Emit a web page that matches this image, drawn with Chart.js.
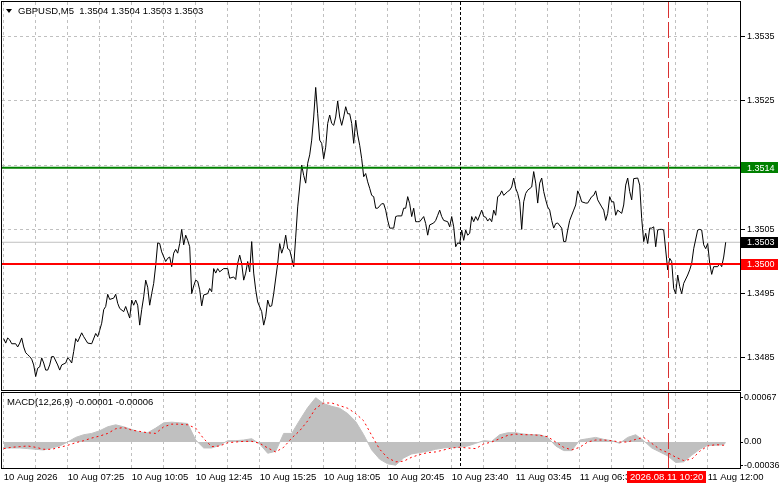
<!DOCTYPE html>
<html>
<head>
<meta charset="utf-8">
<title>GBPUSD M5</title>
<script src="https://cdn.jsdelivr.net/npm/chart.js@4.4.1/dist/chart.umd.min.js"></script>
<style>
  body { margin: 0; background: #fff; }
  #wrap { position: relative; width: 781px; height: 489px; overflow: hidden; background: #fff;
          font-family: 'Liberation Sans', Arial, sans-serif; font-size: 9.5px; color: #000; }
  .pane { position: absolute; left: 0; width: 781px; }
  .caption { position: absolute; white-space: pre; line-height: 12px; }
  .tri { position: absolute; left: 6px; top: 9px; width: 0; height: 0;
         border-left: 3.5px solid transparent; border-right: 3.5px solid transparent; border-top: 4px solid #000; }
</style>
</head>
<body>
<div id="wrap">
  <div class="pane" style="top:0;height:392px"><canvas id="priceChart"></canvas></div>
  <div class="pane" style="top:392px;height:97px"><canvas id="macdChart"></canvas></div>
  <div class="tri"></div>
  <div class="caption" style="left:18px;top:5px">GBPUSD,M5  1.3504 1.3504 1.3503 1.3503</div>
  <div class="caption" style="left:7px;top:396px">MACD(12,26,9) -0.00001 -0.00006</div>
</div>

<script>
// bar number -> close (M5 bars, 2px each)
const priceBars = [
  0, 1, 2, 3, 4, 6, 7, 8, 9, 10,
  11, 12, 13, 14, 15, 16, 17, 18, 19, 20,
  21, 22, 23, 24, 25, 27, 28, 29, 31, 32,
  33, 34, 35, 36, 37, 39, 40, 42, 44, 46,
  47, 48, 49, 50, 51, 52, 53, 55, 56, 57,
  58, 60, 61, 63, 64, 65, 66, 67, 68, 69,
  70, 71, 72, 73, 74, 75, 76, 77, 78, 79,
  81, 82, 83, 84, 85, 86, 87, 88, 89, 90,
  91, 92, 93, 94, 95, 96, 97, 98, 99, 100,
  102, 103, 104, 105, 106, 107, 108, 110, 112, 113,
  115, 116, 117, 118, 119, 120, 121, 122, 123, 124,
  125, 126, 127, 129, 130, 131, 132, 133, 134, 135,
  137, 138, 139, 140, 141, 142, 143, 145, 146, 147,
  148, 149, 150, 151, 152, 153, 154, 155, 156, 157,
  158, 159, 160, 161, 162, 163, 164, 165, 166, 167,
  168, 169, 170, 171, 172, 173, 174, 175, 176, 177,
  178, 179, 180, 181, 182, 183, 184, 185, 186, 187,
  189, 190, 191, 192, 193, 195, 196, 197, 199, 200,
  201, 202, 203, 204, 205, 206, 207, 208, 210, 211,
  212, 213, 215, 216, 217, 218, 219, 220, 222, 223,
  224, 225, 226, 227, 228, 229, 230, 231, 232, 233,
  234, 235, 236, 237, 239, 240, 241, 242, 243, 244,
  245, 246, 247, 248, 249, 250, 252, 253, 254, 255,
  256, 257, 258, 259, 260, 261, 262, 264, 265, 266,
  267, 268, 269, 270, 271, 272, 273, 274, 275, 276,
  277, 279, 280, 281, 282, 283, 285, 286, 287, 288,
  289, 291, 292, 294, 295, 296, 297, 299, 300, 301,
  302, 303, 304, 305, 306, 307, 309, 310, 311, 312,
  313, 314, 315, 317, 318, 319, 320, 321, 322, 323,
  324, 325, 326, 327, 328, 329, 330, 331, 332, 333,
  334, 335, 336, 337, 338, 339, 340, 342, 343, 344,
  345, 347, 348, 349, 350, 351, 352, 353, 354, 355,
  357, 358, 359, 360, 361
];
const closePrices = [
  1.34880, 1.34873, 1.34881, 1.34878, 1.34872, 1.34872, 1.34867, 1.34873, 1.34881, 1.34867,
  1.34858, 1.34855, 1.34852, 1.34848, 1.34839, 1.34821, 1.34834, 1.34836, 1.34850, 1.34842,
  1.34831, 1.34831, 1.34839, 1.34852, 1.34852, 1.34839, 1.34831, 1.34839, 1.34842, 1.34850,
  1.34847, 1.34842, 1.34860, 1.34880, 1.34875, 1.34889, 1.34883, 1.34873, 1.34872, 1.34888,
  1.34883, 1.34893, 1.34904, 1.34925, 1.34930, 1.34949, 1.34941, 1.34943, 1.34949, 1.34935,
  1.34927, 1.34922, 1.34930, 1.34912, 1.34940, 1.34932, 1.34940, 1.34932, 1.34901, 1.34925,
  1.34945, 1.34971, 1.34960, 1.34932, 1.34950, 1.34966, 1.34994, 1.35029, 1.35028, 1.35015,
  1.35000, 1.35005, 1.35007, 1.34992, 1.35013, 1.35019, 1.35013, 1.35028, 1.35050, 1.35026,
  1.35041, 1.35033, 1.35023, 1.34950, 1.34962, 1.34971, 1.34969, 1.34956, 1.34931, 1.34948,
  1.34950, 1.34958, 1.34953, 1.34989, 1.34982, 1.34989, 1.34984, 1.34989, 1.34989, 1.34974,
  1.34976, 1.34972, 1.34997, 1.35010, 1.34997, 1.34971, 1.34982, 1.35000, 1.34984, 1.35031,
  1.34982, 1.34956, 1.34937, 1.34922, 1.34901, 1.34914, 1.34940, 1.34930, 1.34931, 1.34950,
  1.34997, 1.35028, 1.35013, 1.35023, 1.35041, 1.35020, 1.35018, 1.34992, 1.35038, 1.35085,
  1.35116, 1.35150, 1.35134, 1.35122, 1.35153, 1.35166, 1.35189, 1.35225, 1.35271, 1.35230,
  1.35189, 1.35184, 1.35160, 1.35178, 1.35215, 1.35228, 1.35215, 1.35212, 1.35225, 1.35250,
  1.35225, 1.35212, 1.35225, 1.35241, 1.35230, 1.35230, 1.35215, 1.35184, 1.35220, 1.35197,
  1.35181, 1.35160, 1.35132, 1.35137, 1.35124, 1.35114, 1.35103, 1.35101, 1.35083, 1.35083,
  1.35090, 1.35090, 1.35080, 1.35064, 1.35052, 1.35052, 1.35070, 1.35071, 1.35071, 1.35083,
  1.35083, 1.35101, 1.35090, 1.35070, 1.35083, 1.35062, 1.35062, 1.35062, 1.35070, 1.35059,
  1.35041, 1.35057, 1.35060, 1.35064, 1.35072, 1.35080, 1.35070, 1.35064, 1.35062, 1.35054,
  1.35070, 1.35054, 1.35023, 1.35029, 1.35028, 1.35049, 1.35033, 1.35049, 1.35041, 1.35044,
  1.35070, 1.35062, 1.35070, 1.35064, 1.35080, 1.35070, 1.35069, 1.35063, 1.35067, 1.35062,
  1.35080, 1.35072, 1.35101, 1.35103, 1.35110, 1.35103, 1.35109, 1.35111, 1.35116, 1.35130,
  1.35114, 1.35106, 1.35093, 1.35050, 1.35093, 1.35106, 1.35111, 1.35116, 1.35140, 1.35122,
  1.35091, 1.35122, 1.35130, 1.35109, 1.35096, 1.35085, 1.35080, 1.35064, 1.35052, 1.35059,
  1.35060, 1.35052, 1.35031, 1.35031, 1.35049, 1.35064, 1.35080, 1.35088, 1.35110, 1.35103,
  1.35093, 1.35091, 1.35091, 1.35101, 1.35103, 1.35110, 1.35096, 1.35085, 1.35080, 1.35064,
  1.35075, 1.35101, 1.35093, 1.35093, 1.35072, 1.35080, 1.35075, 1.35088, 1.35119, 1.35130,
  1.35109, 1.35096, 1.35129, 1.35130, 1.35119, 1.35067, 1.35031, 1.35044, 1.35028, 1.35052,
  1.35052, 1.35054, 1.35023, 1.35049, 1.35050, 1.35050, 1.35049, 1.35018, 1.34987, 1.35005,
  1.35000, 1.34958, 1.34950, 1.34979, 1.34961, 1.34950, 1.34966, 1.34979, 1.34987, 1.34997,
  1.35020, 1.35049, 1.35050, 1.35049, 1.35026, 1.35020, 1.35028, 1.34997, 1.34980, 1.34992,
  1.34992, 1.34997, 1.34992, 1.35007, 1.35030
];

// MACD(12,26,9): histogram (main) and signal, sampled every 4 bars
const macdBars = [
  0, 4, 8, 12, 16, 20, 24, 28, 32, 36,
  40, 44, 48, 52, 56, 60, 64, 68, 72, 76,
  80, 84, 88, 92, 96, 100, 104, 108, 112, 116,
  120, 124, 128, 132, 136, 140, 144, 148, 152, 156,
  160, 164, 168, 172, 176, 180, 184, 188, 192, 196,
  200, 204, 208, 212, 216, 220, 224, 228, 232, 236,
  240, 244, 248, 252, 256, 260, 264, 268, 272, 276,
  280, 284, 288, 292, 296, 300, 304, 308, 312, 316,
  320, 324, 328, 332, 336, 340, 344, 348, 352, 356,
  360, 361
];
const macdMain = [
  -0.00009, -0.00009, -0.00009, -0.00010, -0.00011, -0.00012, -0.00009, -0.00006, 0.00000, 0.00007,
  0.00011, 0.00013, 0.00017, 0.00023, 0.00026, 0.00023, 0.00019, 0.00015, 0.00014, 0.00021,
  0.00029, 0.00030, 0.00029, 0.00028, 0.00003, -0.00009, -0.00009, -0.00005, 0.00002, 0.00002,
  0.00003, 0.00005, -0.00003, -0.00017, -0.00014, 0.00013, 0.00013, 0.00033, 0.00052, 0.00067,
  0.00058, 0.00054, 0.00051, 0.00043, 0.00031, 0.00011, -0.00012, -0.00026, -0.00033, -0.00035,
  -0.00024, -0.00018, -0.00016, -0.00014, -0.00011, -0.00009, -0.00008, -0.00008, -0.00006, -0.00002,
  0.00002, 0.00001, 0.00011, 0.00014, 0.00014, 0.00012, 0.00011, 0.00011, 0.00007, -0.00006,
  -0.00013, -0.00013, 0.00003, 0.00005, 0.00007, 0.00004, 0.00002, -0.00002, 0.00007, 0.00011,
  0.00002, -0.00009, -0.00015, -0.00021, -0.00031, -0.00030, -0.00020, -0.00011, -0.00005, -0.00005,
  -0.00004, -0.00001
];
const macdSignal = [
  -0.00010, -0.00008, -0.00007, -0.00006, -0.00008, -0.00011, -0.00011, -0.00008, -0.00005, -0.00001,
  0.00002, 0.00006, 0.00009, 0.00013, 0.00020, 0.00022, 0.00018, 0.00016, 0.00014, 0.00013,
  0.00023, 0.00027, 0.00027, 0.00026, 0.00021, 0.00005, -0.00007, -0.00006, -0.00001, 0.00000,
  0.00001, 0.00001, -0.00002, -0.00009, -0.00015, -0.00008, 0.00006, 0.00017, 0.00032, 0.00051,
  0.00059, 0.00059, 0.00055, 0.00051, 0.00043, 0.00032, 0.00010, -0.00011, -0.00024, -0.00030,
  -0.00029, -0.00023, -0.00019, -0.00016, -0.00015, -0.00012, -0.00009, -0.00008, -0.00009, -0.00010,
  -0.00003, 0.00000, 0.00005, 0.00010, 0.00012, 0.00011, 0.00011, 0.00010, 0.00008, 0.00000,
  -0.00008, -0.00012, -0.00008, 0.00000, 0.00003, 0.00003, 0.00002, 0.00000, 0.00000, 0.00004,
  0.00007, -0.00002, -0.00011, -0.00016, -0.00023, -0.00028, -0.00026, -0.00014, -0.00006, -0.00004,
  -0.00005, -0.00006
];

// axis ticks
const timeTickBars = [0, 16, 32, 48, 64, 80, 96, 112, 128, 144, 160, 176, 192, 208, 224, 240,
                      256, 272, 288, 304, 320, 336, 352];
const timeLabels = ['10 Aug 2026', '10 Aug 07:25', '10 Aug 10:05', '10 Aug 12:45', '10 Aug 15:25',
                    '10 Aug 18:05', '10 Aug 20:45', '10 Aug 23:40', '11 Aug 03:45', '11 Aug 06:35',
                    '11 Aug 09:15', '11 Aug 12:00'];
const priceTicks = [1.3485, 1.3495, 1.3505, 1.3515, 1.3525, 1.3535];
const macdTicks = [-0.00036, 0, 0.00067];
const macdTickLabels = ['-0.00036', '0.00', '0.00067'];

// levels and markers
const resistance = 1.35146, resistanceLabel = '1.3514';
const support = 1.34996, supportLabel = '1.3500';
const lastPrice = 1.3503, lastPriceLabel = '1.3503';
const daySeparatorBar = 228;
const cursorBar = 332, cursorLabel = '2026.08.11 10:20';

const xMin = -0.85, xMax = 368.15;
const FAMILY = "'Liberation Sans', Arial, sans-serif";
const AXIS_FONT = { family: FAMILY, size: 9 };
Chart.defaults.font.family = FAMILY;
Chart.defaults.font.size = 9.5;
Chart.defaults.color = '#000';

const levelLine = v => [{ x: xMin, y: v }, { x: xMax, y: v }];

const frame = {
  id: 'frame',
  afterDraw(chart) {
    const { ctx, chartArea: a } = chart;
    ctx.save();
    ctx.strokeStyle = '#000';
    ctx.lineWidth = 1;
    ctx.strokeRect(a.left - 0.5, a.top - 0.5, a.right - a.left + 1, a.bottom - a.top + 1);
    ctx.restore();
  }
};

const markers = {
  id: 'markers',
  afterDatasetsDraw(chart) {
    const { ctx, chartArea: a, scales: { x } } = chart;
    const vline = (bar, color, dash) => {
      const px = Math.round(x.getPixelForValue(bar)) + 0.5;
      ctx.save();
      ctx.strokeStyle = color;
      ctx.lineWidth = 1;
      ctx.setLineDash(dash);
      ctx.beginPath();
      ctx.moveTo(px, a.top);
      ctx.lineTo(px, a.bottom);
      ctx.stroke();
      ctx.restore();
    };
    vline(daySeparatorBar, '#000', [3, 2]);
    vline(cursorBar, '#d83030', [16, 4]);
  }
};

const tag = (ctx, x, y, w, h, bg, text) => {
  ctx.fillStyle = bg;
  ctx.fillRect(x, Math.round(y - h / 2), w, h);
  ctx.fillStyle = '#fff';
  ctx.textBaseline = 'middle';
  ctx.textAlign = 'left';
  ctx.font = AXIS_FONT.size + 'px ' + FAMILY;
  ctx.fillText(text, x + 6, Math.round(y) + 0.5);
};

const priceTags = {
  id: 'priceTags',
  afterDraw(chart) {
    const { ctx, chartArea: a, scales: { y } } = chart;
    ctx.save();
    tag(ctx, a.right + 1, y.getPixelForValue(resistance), 37, 11, '#008000', resistanceLabel);
    tag(ctx, a.right + 1, y.getPixelForValue(lastPrice), 37, 11, '#000', lastPriceLabel);
    tag(ctx, a.right + 1, y.getPixelForValue(support), 37, 11, '#ff0000', supportLabel);
    ctx.restore();
  }
};

const timeTag = {
  id: 'timeTag',
  afterDraw(chart) {
    const { ctx, chartArea: a, scales: { x } } = chart;
    const px = x.getPixelForValue(cursorBar);
    ctx.save();
    ctx.fillStyle = '#ff0000';
    ctx.fillRect(Math.round(px - 41), a.bottom + 3, 79, 12);
    ctx.fillStyle = '#fff';
    ctx.textAlign = 'left';
    ctx.textBaseline = 'middle';
    ctx.font = '9.5px ' + FAMILY;
    ctx.fillText(cursorLabel, Math.round(px - 38), a.bottom + 9.5);
    ctx.restore();
  }
};

const timeAxis = (showLabels) => ({
  type: 'linear',
  min: xMin,
  max: xMax,
  afterBuildTicks: s => { s.ticks = timeTickBars.map(v => ({ value: v })); },
  afterFit: s => { s.height = showLabels ? 21 : 0; s.paddingLeft = 0; s.paddingRight = 0; },
  grid: { color: '#c0c0c0', drawTicks: false },
  border: { display: false, dash: [3, 3] },
  ticks: {
    display: showLabels,
    align: 'start',
    autoSkip: false,
    maxRotation: 0,
    padding: 4,
    callback: (v, i) => (i % 2 === 0 ? timeLabels[i / 2] : '')
  }
});

new Chart(document.getElementById('priceChart'), {
  type: 'line',
  data: {
    datasets: [
      {
        data: levelLine(resistance),
        borderColor: '#008000', borderWidth: 2, pointRadius: 0, order: 1
      },
      {
        data: levelLine(support),
        borderColor: '#ff0000', borderWidth: 2, pointRadius: 0, order: 1
      },
      {
        data: priceBars.map((b, i) => ({ x: b, y: closePrices[i] })),
        borderColor: '#000', borderWidth: 1, pointRadius: 0, tension: 0, order: 2
      },
      {
        data: levelLine(lastPrice),
        borderColor: '#c0c0c0', borderWidth: 1, pointRadius: 0, order: 3
      }
    ]
  },
  options: {
    responsive: true,
    maintainAspectRatio: false,
    animation: false,
    events: [],
    layout: { padding: { left: 2, top: 2, right: 0, bottom: 2 } },
    plugins: { legend: { display: false }, tooltip: { enabled: false } },
    scales: {
      x: timeAxis(false),
      y: {
        position: 'right',
        min: 1.3480,
        max: 1.35404,
        afterBuildTicks: s => { s.ticks = priceTicks.map(v => ({ value: v })); },
        afterFit: s => { s.width = 41; s.paddingTop = 0; s.paddingBottom = 0; },
        grid: { color: '#c0c0c0', tickColor: '#000', tickLength: 5 },
        border: { display: false, dash: [3, 3] },
        ticks: { padding: 2, font: AXIS_FONT, callback: v => v.toFixed(4) }
      }
    }
  },
  plugins: [markers, frame, priceTags]
});

new Chart(document.getElementById('macdChart'), {
  type: 'line',
  data: {
    datasets: [
      {
        data: macdBars.map((b, i) => ({ x: b, y: macdSignal[i] })),
        borderColor: '#ff0000', borderWidth: 1, borderDash: [2, 3], pointRadius: 0, tension: 0, order: 1
      },
      {
        data: macdBars.map((b, i) => ({ x: b, y: macdMain[i] })),
        borderColor: '#c0c0c0', backgroundColor: '#c0c0c0', borderWidth: 1,
        fill: 'origin', pointRadius: 0, tension: 0, order: 2
      }
    ]
  },
  options: {
    responsive: true,
    maintainAspectRatio: false,
    animation: false,
    events: [],
    layout: { padding: { left: 2, top: 1, right: 0, bottom: 0 } },
    plugins: { legend: { display: false }, tooltip: { enabled: false } },
    scales: {
      x: timeAxis(true),
      y: {
        position: 'right',
        min: -0.000393,
        max: 0.000741,
        afterBuildTicks: s => { s.ticks = macdTicks.map(v => ({ value: v })); },
        afterFit: s => { s.width = 41; s.paddingTop = 0; s.paddingBottom = 0; },
        grid: { drawOnChartArea: false, tickColor: '#000', tickLength: 3 },
        border: { display: false },
        ticks: { padding: 1, font: AXIS_FONT, callback: (v, i) => macdTickLabels[i] }
      }
    }
  },
  plugins: [markers, frame, timeTag]
});
</script>
</body>
</html>
